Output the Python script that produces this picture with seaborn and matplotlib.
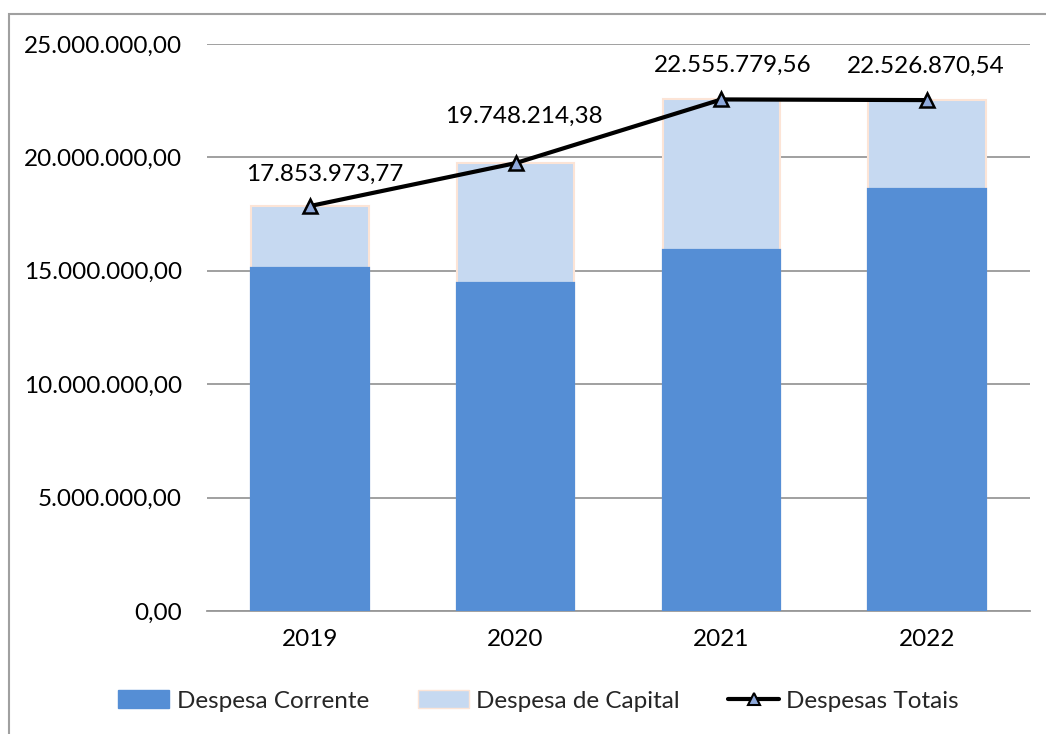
import matplotlib
matplotlib.use("Agg")
import matplotlib.pyplot as plt
import seaborn as sns
import pandas as pd
import numpy as np
from matplotlib.patches import Rectangle, Patch
from matplotlib.lines import Line2D

anos = ["2019", "2020", "2021", "2022"]
despesa_corrente = [15120000, 14460000, 15920000, 18610000]
despesas_totais = [17853973.77, 19748214.38, 22555779.56, 22526870.54]
despesa_capital = [t - c for t, c in zip(despesas_totais, despesa_corrente)]
rotulos = ["17.853.973,77", "19.748.214,38", "22.555.779,56", "22.526.870,54"]

sns.set_theme(style="white")
plt.rcParams['font.family'] = ['Lato', 'DejaVu Sans']

df = pd.DataFrame({"ano": anos, "corrente": despesa_corrente,
                   "capital": despesa_capital, "total": despesas_totais})

fig = plt.figure(figsize=(10.46, 7.34), dpi=100)
ax = fig.add_axes([207/1046, 1 - 611/734, (1030-207)/1046, (611-44)/734])

c_corr = "#558ED5"
c_cap = "#C6D9F1"
bw = 0.57
fs = 17.5
sns.barplot(data=df, x="ano", y="total", color=c_cap, width=bw, ax=ax,
            edgecolor="#FCE4D6", linewidth=1.5, saturation=1, zorder=2)
sns.barplot(data=df, x="ano", y="corrente", color=c_corr, width=bw, ax=ax,
            edgecolor=c_corr, linewidth=1.6, saturation=1, zorder=3)
ax.plot(np.arange(len(anos)), df["total"], color="black", lw=3, marker="^",
        markersize=10, markerfacecolor="#8EA9DB", markeredgecolor="black",
        markeredgewidth=1.8, zorder=5)

offs = [(11, 15), (6, 26), (8, 17), (-1, 17)]
for i, (v, lab) in enumerate(zip(despesas_totais, rotulos)):
    ax.annotate(lab, (i, v), xytext=offs[i], textcoords="offset points",
                ha="center", va="bottom", fontsize=fs, color="black")

ax.set_ylim(0, 25000000)
ax.set_xlim(-0.5, 3.5)
ticks = np.arange(0, 25000001, 5000000)
ax.set_yticks(ticks)
ax.set_yticklabels([f"{t:,.2f}".replace(",", "X").replace(".", ",").replace("X", ".") for t in ticks])
ax.yaxis.grid(True, color="#999999", lw=1.3)
ax.set_axisbelow(True)
for s in ax.spines.values():
    s.set_visible(False)
ax.spines["bottom"].set_visible(True)
ax.spines["bottom"].set_color("#999999")
ax.spines["bottom"].set_linewidth(1.3)
ax.tick_params(axis="y", labelsize=fs, pad=18, length=0, colors="black")
ax.tick_params(axis="x", labelsize=fs, pad=13, length=0, colors="black")
ax.set_xlabel("")
ax.set_ylabel("")

handles = [Patch(facecolor=c_corr, edgecolor=c_corr, label="Despesa Corrente"),
           Patch(facecolor=c_cap, edgecolor="#FCE4D6", label="Despesa de Capital"),
           Line2D([0], [0], color="black", lw=3, marker="^", markersize=9,
                  markerfacecolor="#8EA9DB", markeredgecolor="black",
                  markeredgewidth=1.5, label="Despesas Totais")]
fig.legend(handles=handles, loc="center", bbox_to_anchor=(0.515, 1 - 701/734),
           ncol=3, frameon=False, fontsize=fs, handlelength=2.1,
           handleheight=0.75, columnspacing=2.0, handletextpad=0.3)

fig.patches.append(Rectangle((9/1046, -0.01), 1.0, 1 - 14/734 + 0.01,
                             transform=fig.transFigure, fill=False,
                             edgecolor="#A0A0A0", lw=1.5))

fig.savefig("out.png", dpi=100)
